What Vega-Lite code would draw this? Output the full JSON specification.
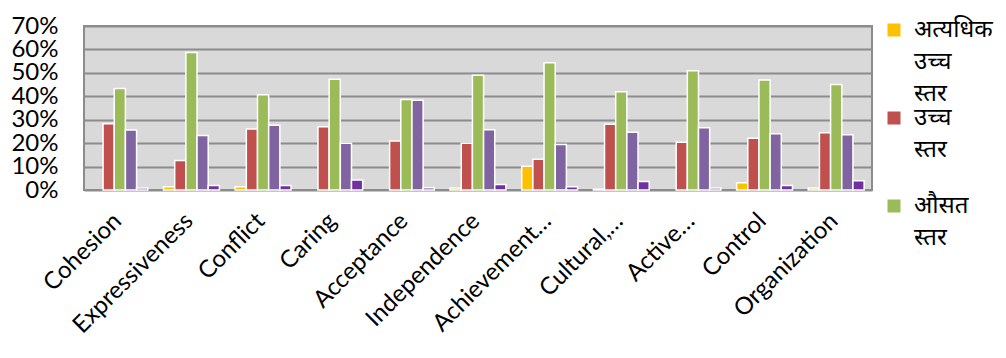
{
  "$schema": "https://vega.github.io/schema/vega-lite/v6.json",
  "autosize": {"type": "none"},
  "width": 788,
  "height": 164,
  "padding": {"left": 84, "top": 26, "right": 134, "bottom": 168},
  "background": "white",
  "config": {
    "view": {"fill": "#D9D9D9", "stroke": "#8C8C8C", "strokeWidth": 2},
    "style": {"guide-label": {"lineHeight": 32, "dy": -12}}
  },
  "data": {
    "values": [
      {"cat": "Cohesion", "s": "अत्यधिक उच्च स्तर", "o": 1, "v": 0},
      {"cat": "Cohesion", "s": "उच्च स्तर", "o": 2, "v": 28.3},
      {"cat": "Cohesion", "s": "औसत स्तर", "o": 3, "v": 43.3},
      {"cat": "Cohesion", "s": "निम्न स्तर", "o": 4, "v": 25.6},
      {"cat": "Cohesion", "s": "अत्यधिक निम्न स्तर", "o": 5, "v": 0.9},
      {"cat": "Expressiveness", "s": "अत्यधिक उच्च स्तर", "o": 1, "v": 1.4},
      {"cat": "Expressiveness", "s": "उच्च स्तर", "o": 2, "v": 12.6},
      {"cat": "Expressiveness", "s": "औसत स्तर", "o": 3, "v": 58.7},
      {"cat": "Expressiveness", "s": "निम्न स्तर", "o": 4, "v": 23.3},
      {"cat": "Expressiveness", "s": "अत्यधिक निम्न स्तर", "o": 5, "v": 1.9},
      {"cat": "Conflict", "s": "अत्यधिक उच्च स्तर", "o": 1, "v": 1.4},
      {"cat": "Conflict", "s": "उच्च स्तर", "o": 2, "v": 26.0},
      {"cat": "Conflict", "s": "औसत स्तर", "o": 3, "v": 40.7},
      {"cat": "Conflict", "s": "निम्न स्तर", "o": 4, "v": 27.6},
      {"cat": "Conflict", "s": "अत्यधिक निम्न स्तर", "o": 5, "v": 1.9},
      {"cat": "Caring", "s": "अत्यधिक उच्च स्तर", "o": 1, "v": 0},
      {"cat": "Caring", "s": "उच्च स्तर", "o": 2, "v": 27.0},
      {"cat": "Caring", "s": "औसत स्तर", "o": 3, "v": 47.3},
      {"cat": "Caring", "s": "निम्न स्तर", "o": 4, "v": 20.0},
      {"cat": "Caring", "s": "अत्यधिक निम्न स्तर", "o": 5, "v": 4.3},
      {"cat": "Acceptance", "s": "अत्यधिक उच्च स्तर", "o": 1, "v": 0},
      {"cat": "Acceptance", "s": "उच्च स्तर", "o": 2, "v": 20.9},
      {"cat": "Acceptance", "s": "औसत स्तर", "o": 3, "v": 38.6},
      {"cat": "Acceptance", "s": "निम्न स्तर", "o": 4, "v": 38.3},
      {"cat": "Acceptance", "s": "अत्यधिक निम्न स्तर", "o": 5, "v": 1.0},
      {"cat": "Independence", "s": "अत्यधिक उच्च स्तर", "o": 1, "v": 0.9},
      {"cat": "Independence", "s": "उच्च स्तर", "o": 2, "v": 20.0},
      {"cat": "Independence", "s": "औसत स्तर", "o": 3, "v": 49.0},
      {"cat": "Independence", "s": "निम्न स्तर", "o": 4, "v": 25.7},
      {"cat": "Independence", "s": "अत्यधिक निम्न स्तर", "o": 5, "v": 2.4},
      {"cat": "Achievement…", "s": "अत्यधिक उच्च स्तर", "o": 1, "v": 10.1},
      {"cat": "Achievement…", "s": "उच्च स्तर", "o": 2, "v": 13.1},
      {"cat": "Achievement…", "s": "औसत स्तर", "o": 3, "v": 54.3},
      {"cat": "Achievement…", "s": "निम्न स्तर", "o": 4, "v": 19.4},
      {"cat": "Achievement…", "s": "अत्यधिक निम्न स्तर", "o": 5, "v": 1.4},
      {"cat": "Cultural,…", "s": "अत्यधिक उच्च स्तर", "o": 1, "v": 0.3},
      {"cat": "Cultural,…", "s": "उच्च स्तर", "o": 2, "v": 28.1},
      {"cat": "Cultural,…", "s": "औसत स्तर", "o": 3, "v": 41.9},
      {"cat": "Cultural,…", "s": "निम्न स्तर", "o": 4, "v": 24.6},
      {"cat": "Cultural,…", "s": "अत्यधिक निम्न स्तर", "o": 5, "v": 3.6},
      {"cat": "Active…", "s": "अत्यधिक उच्च स्तर", "o": 1, "v": 0},
      {"cat": "Active…", "s": "उच्च स्तर", "o": 2, "v": 20.4},
      {"cat": "Active…", "s": "औसत स्तर", "o": 3, "v": 50.9},
      {"cat": "Active…", "s": "निम्न स्तर", "o": 4, "v": 26.6},
      {"cat": "Active…", "s": "अत्यधिक निम्न स्तर", "o": 5, "v": 0.9},
      {"cat": "Control", "s": "अत्यधिक उच्च स्तर", "o": 1, "v": 3.1},
      {"cat": "Control", "s": "उच्च स्तर", "o": 2, "v": 22.1},
      {"cat": "Control", "s": "औसत स्तर", "o": 3, "v": 47.0},
      {"cat": "Control", "s": "निम्न स्तर", "o": 4, "v": 24.0},
      {"cat": "Control", "s": "अत्यधिक निम्न स्तर", "o": 5, "v": 1.9},
      {"cat": "Organization", "s": "अत्यधिक उच्च स्तर", "o": 1, "v": 0.9},
      {"cat": "Organization", "s": "उच्च स्तर", "o": 2, "v": 24.4},
      {"cat": "Organization", "s": "औसत स्तर", "o": 3, "v": 45.0},
      {"cat": "Organization", "s": "निम्न स्तर", "o": 4, "v": 23.6},
      {"cat": "Organization", "s": "अत्यधिक निम्न स्तर", "o": 5, "v": 3.9}
    ]
  },
  "mark": {"type": "bar", "stroke": "white"},
  "encoding": {
    "x": {
      "field": "cat",
      "type": "nominal",
      "sort": null,
      "title": null,
      "scale": {"paddingInner": 0.22, "paddingOuter": 0.11},
      "axis": {
        "labelAngle": -45,
        "labelFont": "Lato",
        "labelFontSize": 24,
        "labelColor": "#000000",
        "labelPadding": 27,
        "labelOffset": -2,
        "ticks": false,
        "domain": false,
        "labelLimit": 300,
        "labelOverlap": false
      }
    },
    "xOffset": {"field": "o", "type": "ordinal", "sort": "ascending"},
    "y": {
      "field": "v",
      "type": "quantitative",
      "title": null,
      "scale": {"domain": [0, 70], "nice": false},
      "axis": {
        "values": [0, 10, 20, 30, 40, 50, 60, 70],
        "labelExpr": "datum.value + '%'",
        "labelFont": "Lato",
        "labelFontSize": 24,
        "labelColor": "#000000",
        "labelPadding": 26,
        "labelOffset": 12,
        "labelOverlap": false,
        "ticks": false,
        "domain": false,
        "grid": true,
        "gridColor": "#8C8C8C",
        "gridWidth": 2
      }
    },
    "strokeWidth": {
      "condition": {"test": "datum.v == 0", "value": 0},
      "value": 1.5
    },
    "color": {
      "field": "s",
      "type": "nominal",
      "scale": {
        "domain": ["अत्यधिक उच्च स्तर", "उच्च स्तर", "औसत स्तर", "निम्न स्तर", "अत्यधिक निम्न स्तर"],
        "range": ["#FFC000", "#C0504D", "#9BBB59", "#8064A2", "#7030A0"]
      },
      "legend": {
        "values": ["अत्यधिक उच्च स्तर", "उच्च स्तर", "औसत स्तर"],
        "title": null,
        "orient": "none",
        "legendX": 798,
        "legendY": -8,
        "symbolType": "square",
        "symbolSize": 169,
        "symbolStrokeWidth": 0,
        "labelExpr": "datum.label == 'उच्च स्तर' ? ['उच्च', 'स्तर', ' '] : split(datum.label, ' ')",
        "labelFont": "Noto Sans",
        "labelFontSize": 24,
        "labelColor": "#000000",
        "labelOffset": 8,
        "labelBaseline": "top",
        "rowPadding": -1,
        "labelLimit": 200
      }
    }
  }
}
